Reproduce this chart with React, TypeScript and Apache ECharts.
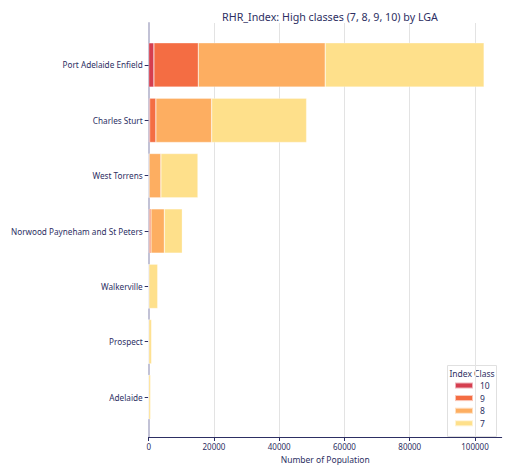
import React, { useEffect, useRef } from "react";
import * as echarts from "echarts";

// LGAs, top to bottom
const lgas = [
  "Port Adelaide Enfield",
  "Charles Sturt",
  "West Torrens",
  "Norwood Payneham and St Peters",
  "Walkerville",
  "Prospect",
  "Adelaide",
];

// Population by RHR index class
const class10 = [1600, 300, 40, 200, 0, 0, 0];
const class9 = [13600, 1900, 100, 500, 0, 0, 0];
const class8 = [38900, 17100, 3600, 4100, 60, 30, 20];
const class7 = [48700, 29100, 11350, 5500, 2700, 850, 560];

const classNames = ["10", "9", "8", "7"];
const classColors = ["#d53e4f", "#f46d43", "#fdae61", "#fee08b"];
const xTicks = [0, 20000, 40000, 60000, 80000, 100000];

const TEXT = "#2d2f63";
const FONT = "Noto Sans";

export default function App() {
  const ref = useRef<HTMLDivElement>(null);

  useEffect(() => {
    document.body.style.margin = "0";
    if (!ref.current) return;
    const chart = echarts.init(ref.current, null, { renderer: "svg" });
    const seriesData = [class10, class9, class8, class7];
    const xMax = 108200;

    chart.setOption({
      animation: false,
      textStyle: { fontFamily: FONT, color: TEXT },
      title: {
        text: "RHR_Index: High classes (7, 8, 9, 10) by LGA",
        left: 325,
        top: 6,
        textAlign: "center",
        textStyle: { fontSize: 10.7, fontWeight: "normal", color: TEXT, fontFamily: FONT },
      },
      grid: [
        { left: 148.7, right: 37, top: 23, bottom: 36 },
        { left: 148.7, right: 10.3, top: 23, bottom: 36 },
        { left: 148.7, right: 10.3, top: 37.3, bottom: 48.3 },
      ],
      xAxis: [
        {
          gridIndex: 0,
          type: "value",
          min: 0,
          max: xTicks[xTicks.length - 1],
          interval: 20000,
          axisLine: { show: false },
          axisTick: { show: true, length: 4, lineStyle: { color: TEXT } },
          axisLabel: {
            fontSize: 8,
            color: TEXT,
            margin: 5,
            fontFamily: FONT,
            formatter: (v: number) => String(v),
          },
          splitLine: { show: true, lineStyle: { color: "#e3e3e3", width: 1 } },
        },
        {
          gridIndex: 1,
          type: "value",
          min: 0,
          max: xMax,
          axisLine: { show: true, onZero: false, lineStyle: { color: TEXT, width: 1 } },
          axisTick: { show: false },
          axisLabel: { show: false },
          splitLine: { show: false },
          name: "Number of Population",
          nameLocation: "middle",
          nameGap: 18,
          nameTextStyle: { fontSize: 8.5, color: TEXT, fontFamily: FONT },
        },
        {
          gridIndex: 2,
          type: "value",
          min: 0,
          max: xMax,
          show: false,
        },
      ],
      yAxis: [
        {
          gridIndex: 0,
          type: "value",
          min: 0,
          max: 1,
          axisLine: { show: true, onZero: false, lineStyle: { color: "#c2c2d6", width: 2 } },
          axisTick: { show: false },
          axisLabel: { show: false },
          splitLine: { show: false },
        },
        {
          gridIndex: 1,
          type: "value",
          show: false,
        },
        {
          gridIndex: 2,
          type: "category",
          data: lgas,
          inverse: true,
          axisLine: { show: false },
          axisTick: { show: true, alignWithLabel: true, length: 4, lineStyle: { color: TEXT } },
          axisLabel: { fontSize: 8.2, color: TEXT, margin: 6, fontFamily: FONT },
        },
      ],
      legend: {
        data: classNames,
        orient: "vertical",
        left: 454,
        top: 381,
        itemWidth: 18,
        itemHeight: 6,
        itemGap: 3.6,
        padding: 0,
        icon: "rect",
        textStyle: { fontSize: 8.5, color: TEXT, lineHeight: 8, fontFamily: FONT, padding: [0, 0, 0, 2] },
      },
      graphic: [
        {
          type: "rect",
          shape: { x: 447.5, y: 365.5, width: 49, height: 71 },
          style: { fill: "#ffffff", stroke: "#e0e0e0", lineWidth: 1 },
          z: -1,
        },
        {
          type: "text",
          x: 472,
          y: 373,
          style: {
            text: "Index Class",
            fontSize: 8.5,
            fill: TEXT,
            fontFamily: FONT,
            align: "center",
            verticalAlign: "middle",
          },
        },
      ],
      series: classNames.map((name, i) => ({
        name,
        type: "bar",
        stack: "total",
        xAxisIndex: 2,
        yAxisIndex: 2,
        barCategoryGap: "20%",
        data: seriesData[i],
        itemStyle: {
          color: classColors[i],
          borderColor: "rgba(255,255,255,0.6)",
          borderWidth: 0.5,
        },
      })),
    });

    return () => chart.dispose();
  }, []);

  return <div ref={ref} style={{ width: 512, height: 473 }} />;
}
